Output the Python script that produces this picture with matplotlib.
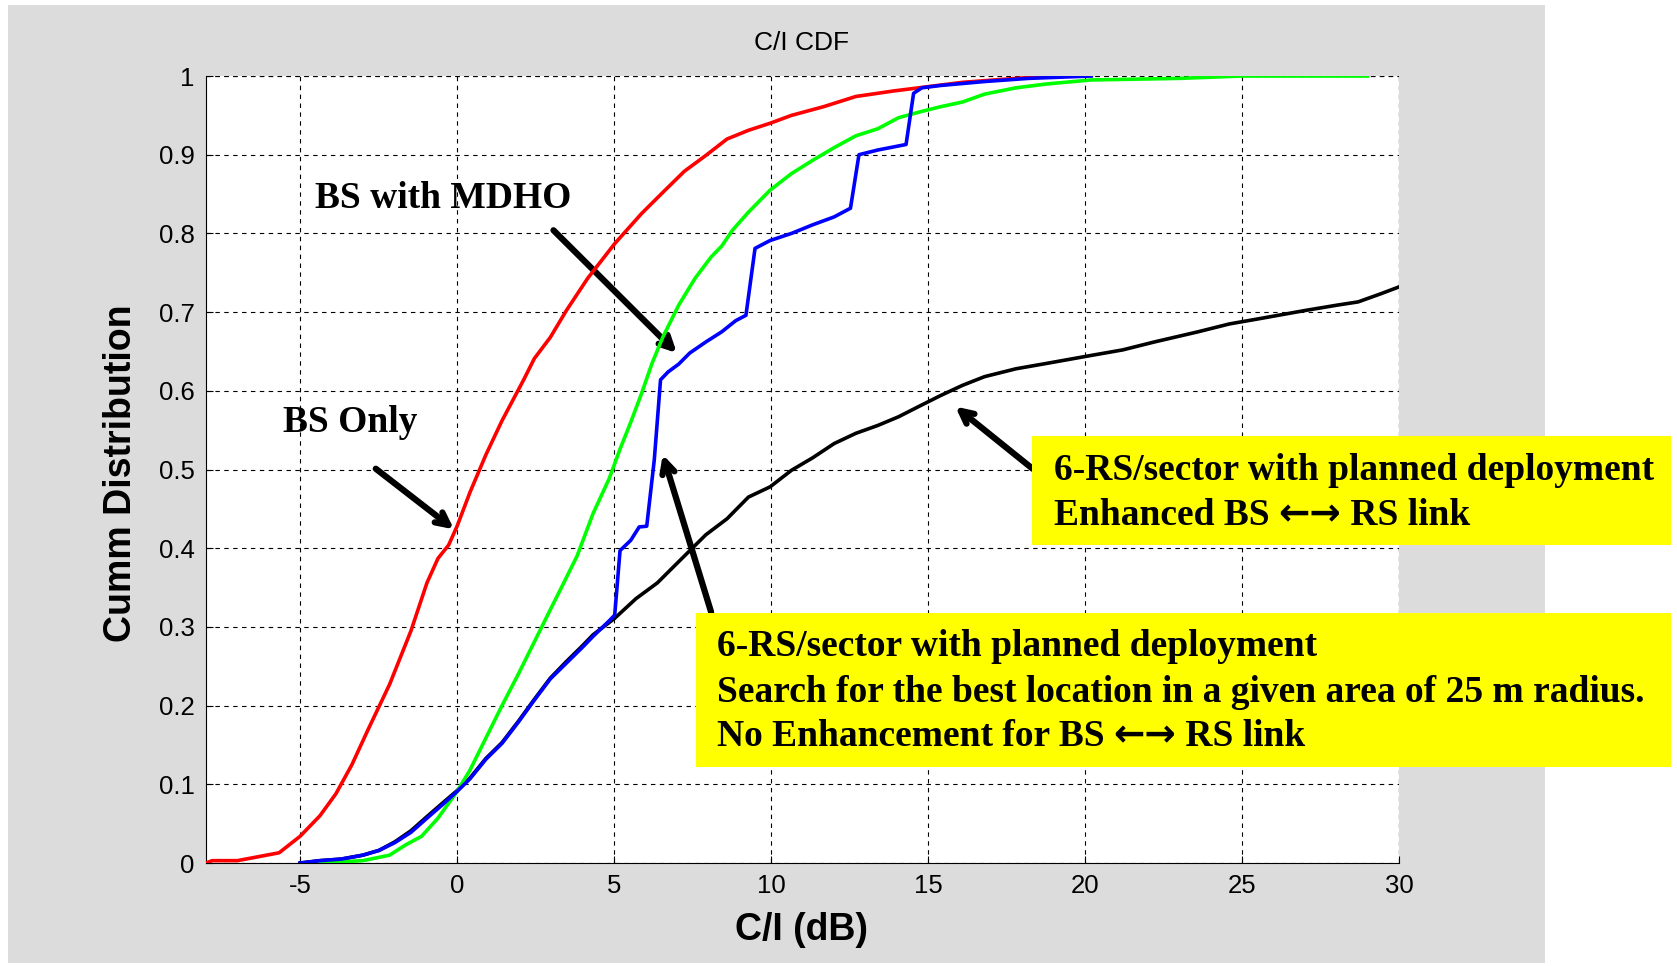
import matplotlib
matplotlib.use("Agg")
import matplotlib.pyplot as plt
from matplotlib.patches import Rectangle

plt.rcParams["axes.unicode_minus"] = False

# --- data ---
red_x = [-8, -7.8, -7, -5.67, -5, -4.37, -3.86, -3.35, -2.83, -2.15, -1.47, -0.96, -0.61, -0.27, 0,
         0.41, 0.92, 1.43, 2.12, 2.46, 2.97, 3.48, 4.16, 5.02, 5.87, 6.55, 7.24, 7.92, 8.6, 9.28,
         9.97, 10.65, 11.67, 12.7, 13.9, 14.7, 16.1, 17.8, 19.0]
red_y = [0, 0.003, 0.003, 0.013, 0.034, 0.06, 0.088, 0.125, 0.17, 0.227, 0.295, 0.356, 0.387, 0.404, 0.428,
         0.471, 0.519, 0.562, 0.614, 0.641, 0.668, 0.702, 0.743, 0.787, 0.825, 0.852, 0.879, 0.899, 0.92, 0.931,
         0.94, 0.95, 0.961, 0.974, 0.981, 0.985, 0.992, 0.997, 1.0]

green_x = [-4.37, -3, -2.15, -1.64, -1.13, -0.61, 0, 0.41, 0.92, 1.43, 1.95, 2.46, 2.97, 3.31, 3.82,
           4.33, 4.85, 5.19, 5.53, 5.87, 6.21, 6.55, 7.06, 7.58, 8.09, 8.43, 8.77, 9.28, 9.97, 10.65,
           11.33, 12.01, 12.7, 13.4, 14.06, 14.7, 15.4, 16.1, 16.8, 17.8, 18.8, 20.2, 23, 25, 29]
green_y = [0, 0.003, 0.01, 0.023, 0.034, 0.057, 0.091, 0.118, 0.159, 0.2, 0.24, 0.281, 0.322, 0.349, 0.39,
           0.444, 0.489, 0.526, 0.56, 0.596, 0.635, 0.668, 0.709, 0.743, 0.77, 0.784, 0.804, 0.827, 0.855, 0.876,
           0.893, 0.909, 0.924, 0.933, 0.947, 0.954, 0.961, 0.967, 0.977, 0.985, 0.99, 0.995, 0.997, 1.0, 1.0]

blue_x = [-5, -4.37, -3.69, -3, -2.49, -1.98, -1.47, -0.96, -0.44, 0, 0.41, 0.92, 1.43, 1.95, 2.46,
          2.97, 3.48, 3.99, 4.33, 4.85, 5.02, 5.19, 5.53, 5.8, 6.04, 6.28, 6.48, 6.72, 7.06, 7.41,
          7.92, 8.43, 8.87, 9.2, 9.49, 9.97, 10.65, 11.33, 12.01, 12.53, 12.8, 13.4, 14.3, 14.54, 14.8,
          15.4, 16.8, 18.2, 20.2]
blue_y = [0, 0.003, 0.005, 0.01, 0.016, 0.026, 0.039, 0.057, 0.075, 0.091, 0.107, 0.132, 0.152, 0.179, 0.207,
          0.234, 0.254, 0.274, 0.288, 0.308, 0.315, 0.397, 0.41, 0.427, 0.428, 0.512, 0.614, 0.624, 0.634, 0.648,
          0.662, 0.675, 0.689, 0.696, 0.781, 0.791, 0.8, 0.811, 0.821, 0.832, 0.9, 0.906, 0.913, 0.978, 0.985,
          0.988, 0.993, 0.997, 1.0]

black_x = [-5, -4.37, -3.69, -3, -2.49, -1.98, -1.47, -0.96, -0.44, 0, 0.41, 0.92, 1.43, 1.95, 2.46,
           2.97, 3.48, 3.99, 4.33, 5.02, 5.7, 6.38, 7.06, 7.92, 8.6, 9.28, 9.97, 10.65, 11.33, 12.01,
           12.7, 13.4, 14.06, 14.7, 15.4, 16.1, 16.8, 17.8, 18.8, 20.2, 21.2, 22.2, 23.6, 24.6, 25.6,
           27, 28.05, 28.7, 29.4, 30]
black_y = [0, 0.003, 0.005, 0.01, 0.016, 0.027, 0.041, 0.059, 0.077, 0.092, 0.108, 0.133, 0.153, 0.18, 0.208,
           0.235, 0.256, 0.276, 0.29, 0.311, 0.336, 0.356, 0.383, 0.417, 0.4375, 0.465, 0.478, 0.499, 0.515, 0.533,
           0.546, 0.556, 0.567, 0.58, 0.594, 0.607, 0.618, 0.628, 0.635, 0.645, 0.652, 0.662, 0.675, 0.685, 0.692,
           0.702, 0.709, 0.713, 0.723, 0.732]

x_ticks = [-5, 0, 5, 10, 15, 20, 25, 30]
y_ticks = [0, 0.1, 0.2, 0.3, 0.4, 0.5, 0.6, 0.7, 0.8, 0.9, 1]
y_ticklabels = ["0", "0.1", "0.2", "0.3", "0.4", "0.5", "0.6", "0.7", "0.8", "0.9", "1"]

ARROWS = "\u2190\u2192"
box1_lines = [["6-RS/sector with planned deployment"],
              ["Enhanced BS ", ARROWS, " RS link"]]
box2_lines = [["6-RS/sector with planned deployment"],
              ["Search for the best location in a given area of 25 m radius."],
              ["No Enhancement for BS ", ARROWS, " RS link"]]

sans = ["Liberation Sans", "DejaVu Sans"]
serif = ["Liberation Serif", "DejaVu Serif"]

fig = plt.figure(figsize=(16.77, 9.66), dpi=100, facecolor="white")

# grey matlab-style figure background
fig.patches.append(Rectangle((0.0048, 0.003), 0.9165, 0.9918, transform=fig.transFigure,
                             facecolor="#dcdcdc", edgecolor="none", zorder=-5))

ax = fig.add_axes([0.1228, 0.1066, 0.7114, 0.8147])
ax.set_facecolor("white")

ax.plot(black_x, black_y, color="black", lw=2.6, zorder=3)
ax.plot(red_x, red_y, color="#ff0000", lw=2.6, zorder=4)
ax.plot(green_x, green_y, color="#00ff00", lw=2.6, zorder=4)
ax.plot(blue_x, blue_y, color="#0000ff", lw=2.6, zorder=5)

ax.set_xlim(-8, 30)
ax.set_ylim(0, 1)
ax.set_xticks(x_ticks)
ax.set_yticks(y_ticks)
ax.set_yticklabels(y_ticklabels)
ax.tick_params(direction="in", length=5, labelsize=18.5, pad=8)
for lab in ax.get_xticklabels() + ax.get_yticklabels():
    lab.set_family(sans)
ax.grid(True, color="black", linestyle=(0, (4, 4)), linewidth=0.8)
ax.spines["top"].set_visible(False)
ax.spines["right"].set_visible(False)
ax.axhline(1, color="black", linestyle=(0, (4, 4)), linewidth=0.8)
ax.axvline(30, color="black", linestyle=(0, (4, 4)), linewidth=0.8)

fig.text(0.478, 0.9555, "C/I CDF", ha="center", va="center", fontsize=19, family=sans)
fig.text(0.478, 0.037, "C/I (dB)", ha="center", va="center", fontsize=27, fontweight="bold", family=sans)
fig.text(0.072, 0.51, "Cumm Distribution", ha="center", va="center", rotation=90,
         fontsize=27, fontweight="bold", family=sans)

# curve labels
ax.text(-4.54, 0.845, "BS with MDHO", fontsize=27, fontweight="bold", family=serif, va="center")
ax.text(-5.56, 0.56, "BS Only", fontsize=27, fontweight="bold", family=serif, va="center")

arrow = dict(arrowstyle="->,head_length=0.9,head_width=0.45", color="black", lw=4.5, shrinkA=0, shrinkB=0)
ax.annotate("", xy=(-0.1, 0.424), xytext=(-2.59, 0.501), arrowprops=arrow, annotation_clip=False)
ax.annotate("", xy=(7.0, 0.648), xytext=(3.07, 0.804), arrowprops=arrow, annotation_clip=False)
ax.annotate("", xy=(6.55, 0.519), xytext=(8.09, 0.319), arrowprops=arrow, annotation_clip=False, zorder=6)
ax.annotate("", xy=(15.87, 0.58), xytext=(18.33, 0.501), arrowprops=arrow, annotation_clip=False, zorder=6)

# yellow boxes
fig.patches.append(Rectangle((0.6154, 0.4358), 0.381, 0.1129, transform=fig.transFigure,
                             facecolor="#ffff00", edgecolor="none", zorder=10))
fig.patches.append(Rectangle((0.415, 0.206), 0.5814, 0.1594, transform=fig.transFigure,
                             facecolor="#ffff00", edgecolor="none", zorder=10))

renderer = fig.canvas.get_renderer()


def draw_line(x_px, y_px, pieces):
    # draw one box line piece by piece; the arrows use a heavier font
    x = x_px / 1677
    y = 1 - y_px / 966
    for piece in pieces:
        fam = ["DejaVu Sans"] if piece == ARROWS else serif
        t = fig.text(x, y, piece, fontsize=27, fontweight="bold", family=fam,
                     va="baseline", ha="left", zorder=11)
        x += t.get_window_extent(renderer).width / fig.bbox.width


for i, line in enumerate(box1_lines):
    draw_line(1053.5, 480 + 45 * i, line)
for i, line in enumerate(box2_lines):
    draw_line(716.6, 656.5 + 45 * i, line)

fig.savefig("out.png", dpi=100, facecolor="white")
